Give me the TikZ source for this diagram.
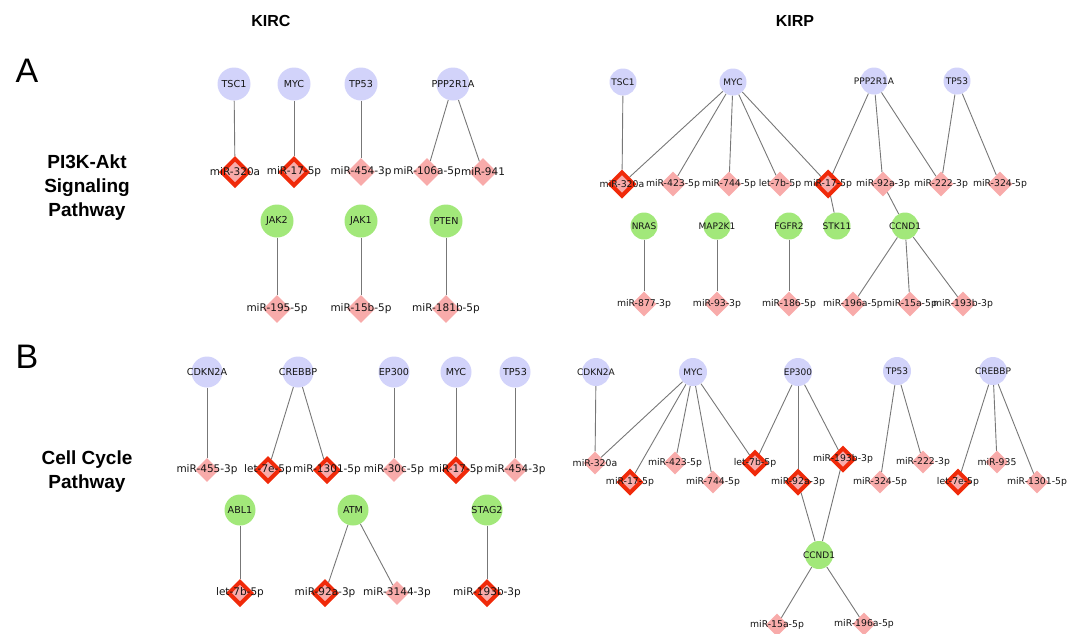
\documentclass[tikz,border=0pt]{standalone}
\usepackage{fontspec}
\setmainfont{Liberation Sans}
\newfontfamily\lblfont{DejaVu Sans}
\usetikzlibrary{shapes.geometric}
\pgfdeclarelayer{bg}
\pgfsetlayers{bg,main}
\definecolor{lav}{HTML}{D2D3FA}
\definecolor{grn}{HTML}{A2E87A}
\definecolor{pnk}{HTML}{F8ABAA}
\definecolor{hred}{HTML}{F02A0A}
\definecolor{edgec}{HTML}{777777}
\definecolor{txtc}{HTML}{151515}
\def\gsz{33pt}\def\msz{28pt}\def\gfs{9.2}\def\mfs{10}
\tikzset{
  gtxt/.style={font=\lblfont\fontsize{\gfs}{\gfs}\selectfont, text=txtc, inner sep=0pt, draw=none, fill=none},
  mtxt/.style={font=\lblfont\fontsize{\mfs}{\mfs}\selectfont, text=txtc, inner sep=0pt, draw=none, fill=none},
  gene/.style={circle, inner sep=0pt, minimum size=\gsz, fill=lav, label={[gtxt]center:#1}},
  ggene/.style={gene=#1, fill=grn},
  mir/.style={diamond, aspect=1, inner sep=0pt, minimum width=\msz, minimum height=\msz, fill=pnk, label={[mtxt]center:#1}},
  hmir/.style={mir=#1, draw=hred, line width=4pt},
  edge/.style={draw=edgec, line width=0.9pt},
  ttl/.style={font=\bfseries\fontsize{16}{16}\selectfont, inner sep=0pt},
  big/.style={font=\fontsize{34}{34}\selectfont, inner sep=0pt},
  pway/.style={font=\bfseries\fontsize{19}{24}\selectfont, align=center, inner sep=0pt},
}
\begin{document}
\begin{tikzpicture}[x=1pt,y=-1pt]
\useasboundingbox (0,0) rectangle (1077,633);
% titles
\node[ttl] (tkirc) at (271,21) {KIRC};
\node[ttl] (tkirp) at (795,21) {KIRP};
\node[big] (la) at (27,71) {A};
\node[big] (lb) at (27,357) {B};
\node[pway] (pa) at (87,188) {PI3K-Akt\\Signaling\\Pathway};
\node[pway] (pb) at (87,472) {Cell Cycle\\Pathway};

% ===== KIRC, PI3K-Akt =====
\def\gsz{33pt}\def\msz{28pt}\def\gfs{9.6}\def\mfs{10.5}
\node[gene=TSC1] (a1tsc1) at (234,84) {};
\node[gene=MYC] (a1myc) at (294,84) {};
\node[gene=TP53] (a1tp53) at (361,84) {};
\node[gene=PPP2R1A] (a1ppp) at (453,84) {};
\node[hmir=miR-320a] (a1m320a) at (235,172) {};
\node[hmir=miR-17-5p] (a1m17) at (294,172) {};
\node[mir=miR-454-3p] (a1m454) at (361,172) {};
\node[mir=miR-106a-5p] (a1m106a) at (427,172) {};
\node[mir=miR-941] (a1m941) at (483,172) {};
\node[ggene=JAK2] (a1jak2) at (277,221) {};
\node[ggene=JAK1] (a1jak1) at (361,221) {};
\node[ggene=PTEN] (a1pten) at (446,221) {};
\node[mir=miR-195-5p] (a1m195) at (277,309) {};
\node[mir=miR-15b-5p] (a1m15b) at (361,309) {};
\node[mir=miR-181b-5p] (a1m181b) at (446,309) {};
\begin{pgfonlayer}{bg}
\draw[edge] (a1tsc1) -- (a1m320a);
\draw[edge] (a1myc) -- (a1m17);
\draw[edge] (a1tp53) -- (a1m454);
\draw[edge] (a1ppp) -- (a1m106a);
\draw[edge] (a1ppp) -- (a1m941);
\draw[edge] (a1jak2) -- (a1m195);
\draw[edge] (a1jak1) -- (a1m15b);
\draw[edge] (a1pten) -- (a1m181b);
\end{pgfonlayer}

% ===== KIRP, PI3K-Akt =====
\def\gsz{27pt}\def\msz{25pt}\def\gfs{9}\def\mfs{9.3}
\node[gene=TSC1] (a2tsc1) at (623,82) {};
\node[gene=MYC] (a2myc) at (733,82) {};
\node[gene=PPP2R1A] (a2ppp) at (874,81) {};
\node[gene=TP53] (a2tp53) at (957,81) {};
\node[hmir=miR-320a] (a2m320a) at (622,184) {};
\node[mir=miR-423-5p] (a2m423) at (673,184) {};
\node[mir=miR-744-5p] (a2m744) at (729,184) {};
\node[mir=let-7b-5p] (a2l7b) at (780,184) {};
\node[hmir=miR-17-5p] (a2m17) at (828,184) {};
\node[mir=miR-92a-3p] (a2m92a) at (883,184) {};
\node[mir=miR-222-3p] (a2m222) at (941,184) {};
\node[mir=miR-324-5p] (a2m324) at (1000,184) {};
\node[ggene=NRAS] (a2nras) at (644,226) {};
\node[ggene=MAP2K1] (a2map) at (717,226) {};
\node[ggene=FGFR2] (a2fgfr) at (789,226) {};
\node[ggene=STK11] (a2stk) at (837,226) {};
\node[ggene=CCND1] (a2ccnd) at (905,226) {};
\node[mir=miR-877-3p] (a2m877) at (644,304) {};
\node[mir=miR-93-3p] (a2m93) at (717,304) {};
\node[mir=miR-186-5p] (a2m186) at (789,304) {};
\node[mir=miR-196a-5p] (a2m196a) at (853,304) {};
\node[mir=miR-15a-5p] (a2m15a) at (910,304) {};
\node[mir=miR-193b-3p] (a2m193b) at (963,304) {};
\begin{pgfonlayer}{bg}
\draw[edge] (a2tsc1) -- (a2m320a);
\draw[edge] (a2myc) -- (a2m320a);
\draw[edge] (a2myc) -- (a2m423);
\draw[edge] (a2myc) -- (a2m744);
\draw[edge] (a2myc) -- (a2l7b);
\draw[edge] (a2myc) -- (a2m17);
\draw[edge] (a2ppp) -- (a2m17);
\draw[edge] (a2ppp) -- (a2m92a);
\draw[edge] (a2ppp) -- (a2m222);
\draw[edge] (a2tp53) -- (a2m222);
\draw[edge] (a2tp53) -- (a2m324);
\draw[edge] (a2m17) -- (a2stk);
\draw[edge] (a2m92a) -- (a2ccnd);
\draw[edge] (a2nras) -- (a2m877);
\draw[edge] (a2map) -- (a2m93);
\draw[edge] (a2fgfr) -- (a2m186);
\draw[edge] (a2ccnd) -- (a2m196a);
\draw[edge] (a2ccnd) -- (a2m15a);
\draw[edge] (a2ccnd) -- (a2m193b);
\end{pgfonlayer}

% ===== KIRC, Cell Cycle =====
\def\gsz{31pt}\def\msz{24pt}\def\gfs{9.6}\def\mfs{10.5}
\node[gene=CDKN2A] (b1cdkn) at (207,372) {};
\node[gene=CREBBP] (b1creb) at (298,372) {};
\node[gene=EP300] (b1ep) at (394,372) {};
\node[gene=MYC] (b1myc) at (456,372) {};
\node[gene=TP53] (b1tp53) at (515,372) {};
\node[mir=miR-455-3p] (b1m455) at (207,470) {};
\node[hmir=let-7e-5p] (b1l7e) at (268,470) {};
\node[hmir=miR-1301-5p] (b1m1301) at (327,470) {};
\node[mir=miR-30c-5p] (b1m30c) at (394,470) {};
\node[hmir=miR-17-5p] (b1m17) at (456,470) {};
\node[mir=miR-454-3p] (b1m454) at (515,470) {};
\node[ggene=ABL1] (b1abl) at (240,510) {};
\node[ggene=ATM] (b1atm) at (353,510) {};
\node[ggene=STAG2] (b1stag) at (487,510) {};
\node[hmir=let-7b-5p] (b1l7b) at (240,593) {};
\node[hmir=miR-92a-3p] (b1m92a) at (325,593) {};
\node[mir=miR-3144-3p] (b1m3144) at (397,593) {};
\node[hmir=miR-193b-3p] (b1m193b) at (487,593) {};
\begin{pgfonlayer}{bg}
\draw[edge] (b1cdkn) -- (b1m455);
\draw[edge] (b1creb) -- (b1l7e);
\draw[edge] (b1creb) -- (b1m1301);
\draw[edge] (b1ep) -- (b1m30c);
\draw[edge] (b1myc) -- (b1m17);
\draw[edge] (b1tp53) -- (b1m454);
\draw[edge] (b1abl) -- (b1l7b);
\draw[edge] (b1atm) -- (b1m92a);
\draw[edge] (b1atm) -- (b1m3144);
\draw[edge] (b1stag) -- (b1m193b);
\end{pgfonlayer}

% ===== KIRP, Cell Cycle =====
\def\gsz{28pt}\def\msz{23pt}\def\gfs{9}\def\mfs{9.3}
\node[gene=CDKN2A] (b2cdkn) at (596,372) {};
\node[gene=MYC] (b2myc) at (693,372) {};
\node[gene=EP300] (b2ep) at (798,372) {};
\node[gene=TP53] (b2tp53) at (897,371) {};
\node[gene=CREBBP] (b2creb) at (993,371) {};
\node[mir=miR-320a] (b2m320a) at (595,463) {};
\node[hmir=miR-17-5p] (b2m17) at (630,482) {};
\node[mir=miR-423-5p] (b2m423) at (675,463) {};
\node[mir=miR-744-5p] (b2m744) at (713,482) {};
\node[hmir=let-7b-5p] (b2l7b) at (755,463) {};
\node[hmir=miR-92a-3p] (b2m92a) at (798,482) {};
\node[hmir=miR-193b-3p] (b2m193b) at (843,459) {};
\node[mir=miR-324-5p] (b2m324) at (880,482) {};
\node[mir=miR-222-3p] (b2m222) at (923,462) {};
\node[hmir=let-7e-5p] (b2l7e) at (958,482) {};
\node[mir=miR-935] (b2m935) at (997,462) {};
\node[mir=miR-1301-5p] (b2m1301) at (1037,482) {};
\node[ggene=CCND1] (b2ccnd) at (819,555) {};
\node[mir=miR-15a-5p] (b2m15a) at (777,625) {};
\node[mir=miR-196a-5p] (b2m196a) at (864,624) {};
\begin{pgfonlayer}{bg}
\draw[edge] (b2cdkn) -- (b2m320a);
\draw[edge] (b2myc) -- (b2m320a);
\draw[edge] (b2myc) -- (b2m17);
\draw[edge] (b2myc) -- (b2m423);
\draw[edge] (b2myc) -- (b2m744);
\draw[edge] (b2myc) -- (b2l7b);
\draw[edge] (b2ep) -- (b2l7b);
\draw[edge] (b2ep) -- (b2m92a);
\draw[edge] (b2ep) -- (b2m193b);
\draw[edge] (b2tp53) -- (b2m324);
\draw[edge] (b2tp53) -- (b2m222);
\draw[edge] (b2creb) -- (b2l7e);
\draw[edge] (b2creb) -- (b2m935);
\draw[edge] (b2creb) -- (b2m1301);
\draw[edge] (b2ccnd) -- (b2m92a);
\draw[edge] (b2ccnd) -- (b2m193b);
\draw[edge] (b2ccnd) -- (b2m15a);
\draw[edge] (b2ccnd) -- (b2m196a);
\end{pgfonlayer}
\end{tikzpicture}
\end{document}
